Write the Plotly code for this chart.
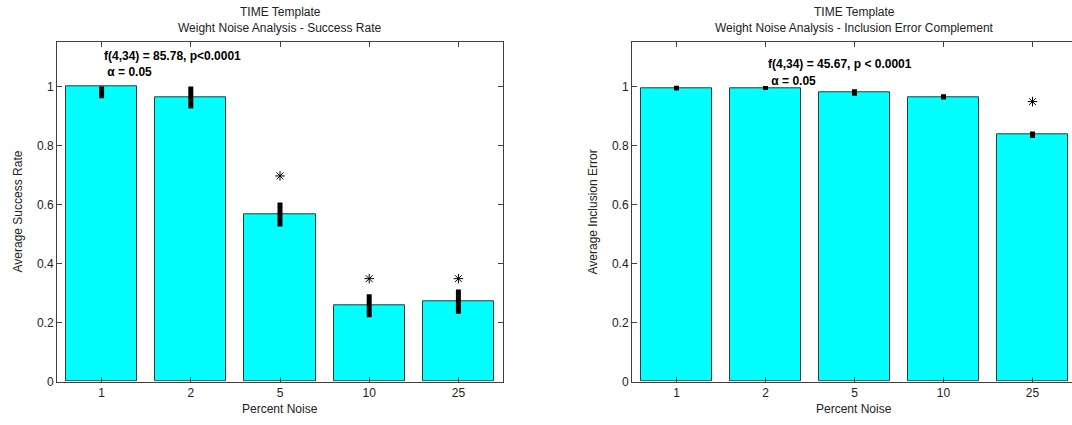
import plotly.graph_objects as go

categories = ["1", "2", "5", "10", "25"]
positions = [1, 2, 3, 4, 5]

# Left: success rate
success_mean = [1.0, 0.963, 0.566, 0.257, 0.271]
success_err_plus = [0.0, 0.037, 0.041, 0.039, 0.041]
success_err_minus = [0.04, 0.037, 0.040, 0.039, 0.041]
success_star_x = [3, 4, 5]
success_star_y = [0.697, 0.349, 0.349]

# Right: inclusion error complement
incl_mean = [0.995, 0.995, 0.980, 0.965, 0.837]
incl_err = [0.008, 0.007, 0.011, 0.009, 0.011]
incl_star_x = [5]
incl_star_y = [0.949]

W, H = 1072, 425
FONT = "Liberation Sans, Arial, Helvetica, sans-serif"
AXC = "#404040"

fig = go.Figure()

def px_x(p):
    return p / W

def px_y(p):
    return (H - p) / H

fig.add_trace(go.Bar(
    x=positions, y=success_mean, width=0.8,
    marker=dict(color="#00FFFF", line=dict(color="#2b3b3b", width=1)),
    error_y=dict(type="data", symmetric=False, array=success_err_plus,
                 arrayminus=success_err_minus, color="black", thickness=5, width=0),
    xaxis="x", yaxis="y", showlegend=False, hoverinfo="skip"))
fig.add_trace(go.Scatter(
    x=success_star_x, y=success_star_y, mode="markers",
    marker=dict(symbol="asterisk-open", size=8, color="black", line=dict(color="black", width=1)),
    xaxis="x", yaxis="y", showlegend=False, hoverinfo="skip"))

fig.add_trace(go.Bar(
    x=positions, y=incl_mean, width=0.8,
    marker=dict(color="#00FFFF", line=dict(color="#2b3b3b", width=1)),
    error_y=dict(type="data", array=incl_err, color="black", thickness=5, width=0),
    xaxis="x2", yaxis="y2", showlegend=False, hoverinfo="skip"))
fig.add_trace(go.Scatter(
    x=incl_star_x, y=incl_star_y, mode="markers",
    marker=dict(symbol="asterisk-open", size=8, color="black", line=dict(color="black", width=1)),
    xaxis="x2", yaxis="y2", showlegend=False, hoverinfo="skip"))

ydom = [px_y(388), px_y(43)]
common_x = dict(tickmode="array", tickvals=positions, ticktext=categories,
                ticks="inside", ticklen=5, tickcolor=AXC, showline=True, linecolor=AXC,
                linewidth=1, showgrid=False, zeroline=False,
                tickfont=dict(family=FONT, size=12, color="#222"), fixedrange=True)
common_y = dict(range=[0, 1.15], tickmode="array", tickvals=[0, 0.2, 0.4, 0.6, 0.8, 1],
                ticktext=["0", "0.2", "0.4", "0.6", "0.8", "1"],
                ticks="inside", ticklen=5, tickcolor=AXC, showline=True, linecolor=AXC,
                linewidth=1, showgrid=False, zeroline=False,
                tickfont=dict(family=FONT, size=12, color="#222"), domain=ydom, fixedrange=True)

fig.update_layout(
    width=W, height=H, margin=dict(l=0, r=0, t=0, b=0),
    paper_bgcolor="white", plot_bgcolor="white", bargap=0,
    font=dict(family=FONT, size=12, color="#222"),
    xaxis=dict(domain=[px_x(57), px_x(503)], range=[0.5, 5.5], anchor="y", mirror="ticks", **common_x),
    yaxis=dict(anchor="x", mirror="ticks", **common_y),
    xaxis2=dict(domain=[px_x(632), 1.0], range=[0.5, 0.5 + 440 / 89.0], anchor="y2", mirror="ticks", **common_x),
    yaxis2=dict(anchor="x2", mirror=False, **common_y),
)

ann = []
def txt(x, y, s, **kw):
    d = dict(x=x, y=y, xref="paper", yref="paper", text=s, showarrow=False,
             xanchor="center", yanchor="middle",
             font=dict(family=FONT, size=12, color="#222"))
    d.update(kw)
    ann.append(d)

# titles
txt(px_x(280), px_y(12), "TIME Template")
txt(px_x(280), px_y(28), "Weight Noise Analysis - Success Rate")
txt(px_x(854), px_y(12), "TIME Template")
txt(px_x(854), px_y(28), "Weight Noise Analysis - Inclusion Error Complement")
# axis labels
txt(px_x(280), px_y(416), "Percent Noise")
txt(px_x(854), px_y(416), "Percent Noise")
txt(px_x(18), px_y(215), "Average Success Rate", textangle=-90)
txt(px_x(593), px_y(215), "Average Inclusion Error", textangle=-90)

fig.update_layout(annotations=ann)

# stats text in data coordinates
fig.add_annotation(x=1, y=1.103, xref="x", yref="y", text="<b>f(4,34) = 85.78, p&lt;0.0001</b>",
                   showarrow=False, xanchor="left", yanchor="middle", font=dict(family=FONT, size=12, color="black"))
fig.add_annotation(x=1, y=1.05, xref="x", yref="y", text="<b> α = 0.05</b>",
                   showarrow=False, xanchor="left", yanchor="middle", font=dict(family=FONT, size=12, color="black"))
fig.add_annotation(x=2, y=1.077, xref="x2", yref="y2", text="<b>f(4,34) = 45.67, p &lt; 0.0001</b>",
                   showarrow=False, xanchor="left", yanchor="middle", font=dict(family=FONT, size=12, color="black"))
fig.add_annotation(x=2, y=1.02, xref="x2", yref="y2", text="<b> α = 0.05</b>",
                   showarrow=False, xanchor="left", yanchor="middle", font=dict(family=FONT, size=12, color="black"))

fig.write_html("out.html", config={"displayModeBar": False},
               post_script="document.body.style.margin='0';document.body.style.overflow='hidden';")
